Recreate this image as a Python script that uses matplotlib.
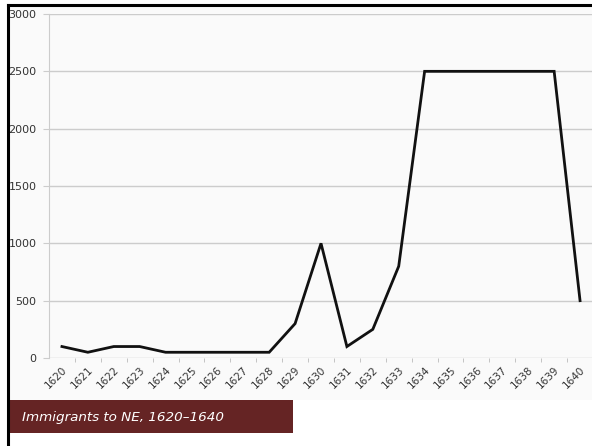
import matplotlib.pyplot as plt
from matplotlib.patches import Rectangle
from matplotlib.lines import Line2D

years = [str(y) for y in range(1620, 1641)]
immigrants = [100, 50, 100, 100, 50, 50, 50, 50, 50, 300, 1000,
              100, 250, 800, 2500, 2500, 2500, 2500, 2500, 2500, 500]
y_ticks = [0, 500, 1000, 1500, 2000, 2500, 3000]
title = "Immigrants to NE, 1620\u20131640"

W, H = 592, 446
fig = plt.figure(figsize=(W / 100, H / 100), dpi=100)
fig.patch.set_facecolor("white")

# slide background + frame
fig.add_artist(Rectangle((8 / W, 1 - 400 / H), 1, 394 / H, transform=fig.transFigure,
                         facecolor="#fafafa", edgecolor="none", zorder=0))
fig.add_artist(Line2D([8 / W, 8 / W], [0, 1 - 5 / H], transform=fig.transFigure,
                      color="black", lw=2.2, zorder=5))
fig.add_artist(Line2D([8 / W, 1], [1 - 5 / H, 1 - 5 / H], transform=fig.transFigure,
                      color="black", lw=2.2, zorder=5))

ax = fig.add_axes([49 / W, 1 - 358 / H, 544 / W, 344 / H])
ax.set_facecolor("none")
x = list(range(len(years)))
ax.plot(x, immigrants, color="#111111", lw=2, solid_joinstyle="miter", clip_on=False, zorder=3)

ax.set_xlim(-0.5, len(years) - 0.5)
ax.set_ylim(0, 3000)
ax.set_yticks(y_ticks)
ax.set_yticklabels([str(v) for v in y_ticks], fontsize=8, color="#333333")
ax.grid(axis="y", color="#cccccc", lw=1)
ax.set_axisbelow(True)

ax.set_xticks(x)
ax.set_xticklabels(years, rotation=45, ha="right", rotation_mode="anchor",
                   fontsize=7.5, color="#333333")
ax.tick_params(axis="x", length=0, pad=5)
ax.set_xticks([i + 0.5 for i in x[:-1]], minor=True)
ax.tick_params(axis="x", which="minor", length=3, color="#bbbbbb", direction="out")
ax.tick_params(axis="y", length=4, color="#cccccc", pad=5)

for s in ["top", "right", "bottom"]:
    ax.spines[s].set_visible(False)
ax.spines["left"].set_color("#cccccc")

# caption bar
fig.add_artist(Rectangle((9 / W, 1 - 433 / H), 284 / W, 33 / H, transform=fig.transFigure,
                         facecolor="#652424", edgecolor="none", zorder=2))
fig.text(22 / W, 1 - 417 / H, title, color="white", fontsize=9.7, style="italic",
         va="center", ha="left", zorder=3)

fig.savefig("out.png", dpi=100)
